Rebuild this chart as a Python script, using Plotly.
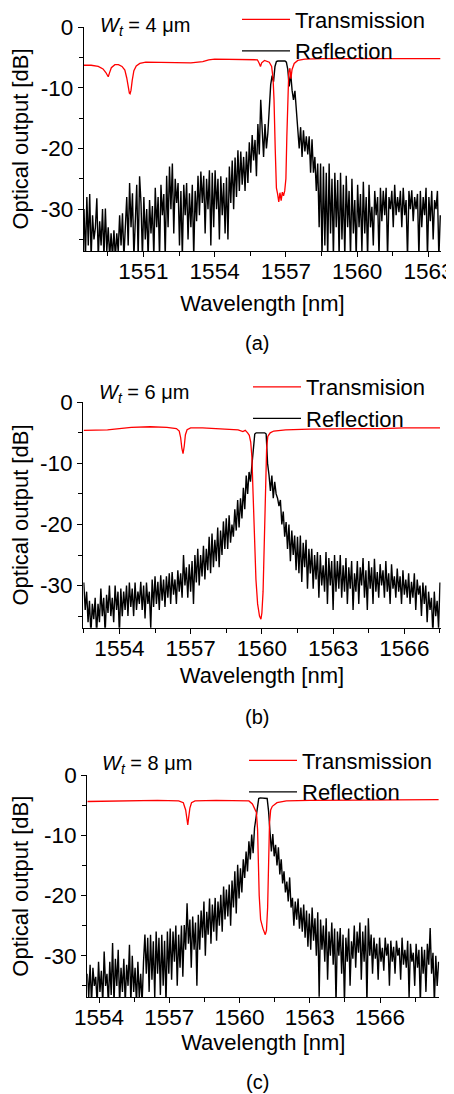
import plotly.graph_objects as go

FIG_W, FIG_H = 454, 1094
FONT = "Liberation Sans, Arial, Helvetica, sans-serif"
SHIFT = 8  # page body margin offset compensation (px)

# ---------------- data ----------------
WL_STEP = 0.06

# panel (a)  W_t = 4 um
A_WL_START = 1548.5
A_REFL = [
    -30, -38, -28, -36, -27.5, -38, -31, -35, -33, -28.2,
    -38, -32, -36, -30, -38, -29.9, -37, -33, -38, -34,
    -38, -33.5, -38, -34, -37, -31, -36, -30.7, -38, -32,
    -28, -36, -25.7, -33, -27.4, -38, -30, -26, -38, -24.6,
    -29, -38, -28, -35, -30, -38, -28.5, -34, -29.5, -38,
    -26.5, -33, -28, -38, -26, -31, -27.5, -38, -24.5, -33,
    -23, -30, -22.5, -34, -25, -29, -25.7, -36, -27, -38,
    -26, -31, -25.7, -35, -27.4, -33, -26, -38, -27, -32,
    -24.5, -31, -23.8, -29, -24.5, -34, -25, -30, -23.6, -36,
    -24, -33, -23.6, -30, -25, -35, -24.6, -31, -25.7, -34,
    -24.8, -35, -23, -29, -22, -30, -21.5, -28, -20.3, -27,
    -20.5, -26, -21.4, -27, -20.5, -25.7, -19, -24, -17.8, -22,
    -18.6, -24.6, -16, -21, -12, -17, -21.4, -16, -20, -17.5,
    -13, -9.5, -8, -9, -6.5, -5.7, -5.6, -5.6, -5.6, -5.6,
    -5.6, -5.6, -5.8, -7, -9.8, -7.6, -10.4, -12, -10.5, -14,
    -16.4, -20, -16.5, -21.4, -17, -20.5, -18, -21, -18, -24,
    -18.5, -24, -21.4, -27, -22.5, -33, -22.5, -38, -23, -36,
    -24, -38, -22.5, -34, -25, -38, -24, -33, -25.2, -38,
    -24, -35, -26, -38, -24.5, -33, -27, -38, -25, -34,
    -28.5, -38, -26, -33, -27.5, -37, -25.5, -34, -28, -38,
    -26, -33, -29.6, -36, -27, -31, -28, -38, -26.5, -32,
    -27, -31, -26.5, -38, -28, -30, -27, -33, -26, -31,
    -28, -30.5, -27, -33, -26.5, -31, -28.5, -38, -27, -30,
    -26.9, -32, -28, -30, -27.5, -38, -27, -33, -28, -31,
    -26.5, -38, -28, -32, -27, -35, -28.5, -30, -27, -38,
    -31,
]
A_TRANS_WL = [1548.5, 1548.8, 1549.1, 1549.3, 1549.42, 1549.48, 1549.52, 1549.57, 1549.65, 1549.8,
              1549.95, 1550.1, 1550.22, 1550.3, 1550.36, 1550.41, 1550.44, 1550.48, 1550.53, 1550.6,
              1550.7, 1550.85, 1551.1, 1551.5, 1552.0, 1552.5, 1553.0, 1553.5, 1553.75, 1554.0,
              1554.5, 1555.0, 1555.5, 1555.8, 1555.88, 1555.93, 1555.98, 1556.1, 1556.3, 1556.4,
              1556.46, 1556.5, 1556.55, 1556.6, 1556.65, 1556.7, 1556.75, 1556.8, 1556.85, 1556.9,
              1556.95, 1557.0, 1557.04, 1557.08, 1557.12, 1557.17, 1557.21, 1557.26, 1557.35, 1557.5,
              1557.8, 1558.5, 1559.5, 1560.5, 1561.5, 1562.5, 1563.5]
A_TRANS_DB = [-6.3, -6.3, -6.5, -6.9, -7.5, -8.0, -8.2, -7.6, -6.7, -6.2,
              -6.2, -6.5, -7.1, -8.4, -10.0, -10.9, -11.0, -10.4, -8.8, -7.2,
              -6.4, -6.0, -5.8, -5.8, -5.9, -5.8, -5.9, -5.7, -5.4, -5.3,
              -5.3, -5.3, -5.4, -5.4, -6.0, -6.5, -5.9, -5.5, -5.8, -6.5,
              -8.5, -12.0, -20.0, -26.5, -27.5, -28.8, -27.3, -28.6, -27.2, -27.8,
              -27.0, -25.0, -18.0, -10.0, -7.5, -6.8, -8.5, -7.0, -6.0, -5.5,
              -5.3, -5.2, -5.2, -5.1, -5.2, -5.2, -5.2]

# panel (b)  W_t = 6 um
B_WL_START = 1552.5
B_REFL = [
    -29.5, -34, -31, -36, -32.5, -38, -33, -35.5, -32, -38,
    -33, -36, -30.5, -35, -32, -38, -31.5, -34.5, -30, -35,
    -32, -36, -30, -34, -31, -38, -30.5, -35, -31, -34,
    -30, -35, -29.5, -33.5, -30.5, -35, -29.5, -34, -31, -33,
    -29.4, -34, -30, -35.4, -29.5, -33, -31, -37, -29, -33.5,
    -28.5, -33, -29.4, -34, -28.3, -32.5, -29, -33.5, -28.5, -32,
    -28, -33, -27.8, -31.5, -29, -33, -27.5, -31, -28, -32,
    -25, -30, -27, -32, -26.5, -31, -26, -33, -25, -29.5,
    -24, -30, -25, -28.5, -23.5, -29, -24, -27.5, -22, -28,
    -21.5, -27, -22.5, -26, -20.5, -27, -21, -25, -19.5, -24,
    -19, -24, -18.5, -23, -20, -22, -17.5, -21, -16, -20.5,
    -15.7, -19, -14, -17.5, -12, -15, -11.4, -13, -10.3, -7.3,
    -5.2, -5.0, -5.0, -5.0, -5.0, -5.0, -5.0, -5.0, -5.2, -10,
    -11.9, -14.5, -12, -15.7, -13, -15, -15.7, -17, -16, -20,
    -17.9, -22, -19.6, -24, -20, -26, -21, -25, -21.8, -27.5,
    -22, -28, -21.8, -29.4, -23, -27, -22.5, -30.5, -24, -28,
    -24, -30.5, -25, -29, -24.5, -32, -25, -30, -26.7, -31,
    -24.5, -33, -25.5, -30, -26, -34, -25, -31, -26, -30.5,
    -25, -32, -26.7, -31, -25.5, -33, -27, -30.5, -26, -34,
    -28, -31, -26, -33, -27, -30, -25.5, -32, -27.5, -34,
    -26, -30.5, -27, -33, -25.6, -31, -27.8, -32, -26.5, -30,
    -27.5, -32, -26, -31, -28, -33, -26.5, -30.5, -28.5, -32,
    -27.2, -31, -28.5, -33, -27.5, -31.5, -29, -32, -28, -33,
    -29.4, -32, -28, -34, -29, -31.5, -30, -35, -29.5, -33,
    -30, -36, -31, -34, -32, -38, -31, -35, -32.5, -37,
    -29.5,
]
B_TRANS_WL = [1552.5, 1553.5, 1554.5, 1555.3, 1556.0, 1556.4, 1556.52, 1556.58, 1556.63, 1556.68,
              1556.73, 1556.78, 1556.85, 1557.0, 1557.5, 1558.0, 1558.5, 1559.0, 1559.2, 1559.3,
              1559.4, 1559.47, 1559.53, 1559.58, 1559.63, 1559.68, 1559.75, 1559.82, 1559.9, 1559.96,
              1560.0, 1560.05, 1560.1, 1560.15, 1560.2, 1560.25, 1560.35, 1560.5, 1561.0, 1562.0,
              1563.0, 1564.0, 1565.0, 1566.0, 1567.5]
B_TRANS_DB = [-4.6, -4.5, -4.1, -4.0, -4.1, -4.3, -4.7, -5.8, -7.5, -8.4,
              -7.2, -5.3, -4.5, -4.2, -4.2, -4.3, -4.4, -4.5, -4.8, -4.6,
              -5.0, -5.4, -6.5, -9.0, -15.0, -22.0, -29.0, -33.0, -35.0, -35.5,
              -34.5, -31.0, -24.0, -14.0, -7.5, -5.6, -5.0, -4.7, -4.5, -4.4,
              -4.3, -4.3, -4.3, -4.2, -4.2]

# panel (c)  W_t = 8 um
C_WL_START = 1553.5
C_REFL = [
    -33, -37, -31.5, -38, -32, -35, -33.5, -38, -31, -36,
    -32.5, -38, -29.3, -35, -33, -38, -31, -36.5, -27.9, -38,
    -30.5, -35, -29, -38, -32, -36, -30.5, -38, -31.5, -35,
    -28.2, -38, -30, -36, -32, -38, -31, -37, -33, -38,
    -31, -26.5, -33, -27, -36, -26.5, -34, -27.6, -37, -26,
    -33, -27, -36.5, -26.5, -35, -27.5, -38, -26, -33, -25.5,
    -34, -26, -31, -25, -35, -26.5, -32, -25, -33.5, -24.9,
    -29, -21.3, -28, -24, -32, -23.5, -29, -24.5, -35, -23.2,
    -29, -22.5, -27, -21, -30, -22.7, -26.5, -20.5, -28, -21.5,
    -26, -20.4, -27.5, -21, -25, -19.9, -26, -18.5, -24, -19,
    -23.5, -18.2, -25, -17.5, -22, -16, -23, -14.9, -20.5, -15.5,
    -19.5, -14, -17.1, -12.7, -16, -11, -14, -9.9, -13, -8.8,
    -7.2, -5.5, -3.9, -3.8, -3.8, -3.8, -3.8, -3.8, -3.9, -6,
    -9.4, -12.7, -9.8, -13.5, -11.6, -15, -12, -16.5, -14, -18,
    -16, -19.5, -17.7, -21, -17, -22, -20.4, -25, -21, -24,
    -20.5, -25.5, -22, -26, -21.5, -27, -22.5, -28.5, -23, -29,
    -22, -27.5, -23.8, -30, -22.8, -36.8, -24, -29, -25, -31,
    -23.8, -34, -26, -30, -24.5, -31.5, -25.5, -38, -26, -30,
    -25.4, -33, -26.5, -38, -27, -31, -25.5, -35, -27.6, -30.5,
    -25, -32, -26, -29.5, -24.5, -34, -26, -31, -25, -38,
    -23.8, -30, -26.5, -33, -27, -30.5, -28, -34, -27, -31,
    -28.7, -32.5, -27, -30, -28, -35, -27.5, -31, -28.5, -33,
    -27.5, -30, -28.7, -34, -27, -31.5, -29, -32, -27.5, -37,
    -28, -31, -29.5, -35, -28, -32, -29, -38, -28.5, -33,
    -29, -36, -28, -31.5, -25.4, -33, -29.5, -38, -30, -35,
    -31,
]
C_TRANS_WL = [1553.5, 1554.5, 1555.5, 1556.5, 1557.4, 1557.6, 1557.7, 1557.75, 1557.79, 1557.83,
              1557.88, 1557.95, 1558.1, 1559.0, 1560.0, 1560.4, 1560.55, 1560.65, 1560.72, 1560.77,
              1560.8, 1560.84, 1560.9, 1561.0, 1561.1, 1561.15, 1561.2, 1561.24, 1561.28, 1561.33,
              1561.4, 1561.6, 1562.0, 1563.0, 1564.5, 1566.0, 1567.5, 1568.5]
C_TRANS_DB = [-4.4, -4.3, -4.2, -4.2, -4.3, -4.6, -5.8, -7.3, -8.3, -7.0,
              -5.5, -4.6, -4.3, -4.2, -4.2, -4.3, -4.8, -5.5, -6.2, -9.0,
              -14.0, -20.0, -24.0, -25.5, -26.5, -25.8, -22.0, -14.0, -8.0, -5.8,
              -5.2, -4.6, -4.3, -4.2, -4.2, -4.1, -4.1, -4.1]

PANEL_LABELS = ["(a)", "(b)", "(c)"]
WIDTH_LABELS = ["4", "6", "8"]
TRANS_NAMES = ["Transmission", "Transmision", "Transmission"]
REFL_NAME = "Reflection"
X_TICKS = [[1551, 1554, 1557, 1560, 1563], [1554, 1557, 1560, 1563, 1566], [1554, 1557, 1560, 1563, 1566]]
Y_TICKS = [0, -10, -20, -30]
X_RANGES = [[1548.5, 1563.53], [1552.48, 1567.53], [1553.5, 1568.53]]
Y_RANGE = [-36.9, 0]

# ---------------- layout helpers (pixel positions as seen in the picture) ----------------
def fx(px):
    return (px - SHIFT) / FIG_W

def fy(py):
    return 1 - (py - SHIFT) / FIG_H

# plot-area pixel boxes: left, top, right, bottom
BOXES = [(84, 27, 441, 251), (83.3, 402.3, 440.7, 627.7), (87.3, 775, 439.3, 997.3)]
LEGEND_POS = [(237, -1.5), (248, 366), (244, 739.5)]
WT_POS = [(98, 27), (97, 394), (100, 764.5)]
CAPTION_POS = [(256.7, 343), (256.7, 716.5), (257, 1082)]
XTITLE_STANDOFF = [12, 7, 3]
TICK_SIZE = 22.5

refl_sets = [(A_WL_START, A_REFL), (B_WL_START, B_REFL), (C_WL_START, C_REFL)]
trans_sets = [(A_TRANS_WL, A_TRANS_DB), (B_TRANS_WL, B_TRANS_DB), (C_TRANS_WL, C_TRANS_DB)]

fig = go.Figure()
layout = dict(
    width=FIG_W, height=FIG_H,
    margin=dict(l=0, r=0, t=0, b=0, pad=0, autoexpand=False),
    paper_bgcolor="white", plot_bgcolor="white",
    font=dict(family=FONT, size=22, color="black"),
    showlegend=True,
    annotations=[],
)

for k in range(3):
    sfx = "" if k == 0 else str(k + 1)
    xname, yname = "x" + sfx, "y" + sfx
    leg = "legend" if k == 0 else "legend" + str(k + 1)
    start, refl = refl_sets[k]
    refl_x = [round(start + i * WL_STEP, 4) for i in range(len(refl))]
    fig.add_trace(go.Scatter(
        x=refl_x, y=refl, mode="lines", name=REFL_NAME,
        line=dict(color="black", width=1.4), xaxis=xname, yaxis=yname,
        legend=leg, legendrank=2, hoverinfo="skip"))
    twl, tdb = trans_sets[k]
    fig.add_trace(go.Scatter(
        x=twl, y=tdb, mode="lines", name=TRANS_NAMES[k],
        line=dict(color="#ff0000", width=1.3), xaxis=xname, yaxis=yname,
        legend=leg, legendrank=1, hoverinfo="skip"))

    l, t, r, b = BOXES[k]
    tfont = dict(family=FONT, size=TICK_SIZE, color="black")
    layout["xaxis" + sfx] = dict(
        showline=True, linecolor="black", linewidth=1.3, mirror=False,
        showgrid=False, zeroline=False, automargin=False,
        ticks="outside", ticklen=5, tickwidth=1.3, tickcolor="black",
        tickfont=tfont, ticklabelstandoff=-5,
        domain=[fx(l), fx(r)], range=X_RANGES[k], anchor=yname,
        tickmode="array", tickvals=X_TICKS[k], ticktext=[str(v) for v in X_TICKS[k]],
        minor=dict(tickmode="linear", tick0=X_TICKS[k][0], dtick=1.5, ticks="outside",
                   ticklen=4, tickwidth=1.3, tickcolor="black"),
        title=dict(text="Wavelength [nm]", font=dict(family=FONT, size=22, color="black"),
                   standoff=XTITLE_STANDOFF[k]),
    )
    layout["yaxis" + sfx] = dict(
        showline=True, linecolor="black", linewidth=1.3, mirror=False,
        showgrid=False, zeroline=False, automargin=False,
        ticks="outside", ticklen=5, tickwidth=1.3, tickcolor="black",
        tickfont=tfont,
        domain=[fy(b), fy(t)], range=Y_RANGE, anchor=xname,
        tickmode="array", tickvals=Y_TICKS, ticktext=[str(v) for v in Y_TICKS],
        minor=dict(tickmode="linear", tick0=0, dtick=5, ticks="outside",
                   ticklen=4, tickwidth=1.3, tickcolor="black"),
        title=dict(text="Optical output [dB]", font=dict(family=FONT, size=22, color="black"),
                   standoff=10),
    )
    lx, ly = LEGEND_POS[k]
    layout[leg] = dict(
        x=fx(lx), y=fy(ly), xanchor="left", yanchor="top",
        bgcolor="rgba(0,0,0,0)", borderwidth=0,
        font=dict(family=FONT, size=22, color="black"),
        itemwidth=48, tracegroupgap=0, traceorder="normal",
    )
    wx, wy = WT_POS[k]
    layout["annotations"].append(dict(
        text="<i>W</i><sub><i>t</i></sub> = " + WIDTH_LABELS[k] + " μm",
        xref="paper", yref="paper", x=fx(wx), y=fy(wy), xanchor="left", yanchor="middle",
        showarrow=False, font=dict(family=FONT, size=20, color="black")))
    cx, cy = CAPTION_POS[k]
    layout["annotations"].append(dict(
        text=PANEL_LABELS[k], xref="paper", yref="paper", x=fx(cx), y=fy(cy),
        xanchor="center", yanchor="middle", showarrow=False,
        font=dict(family=FONT, size=20, color="black")))

fig.update_layout(**layout)
fig.write_html("out.html")
